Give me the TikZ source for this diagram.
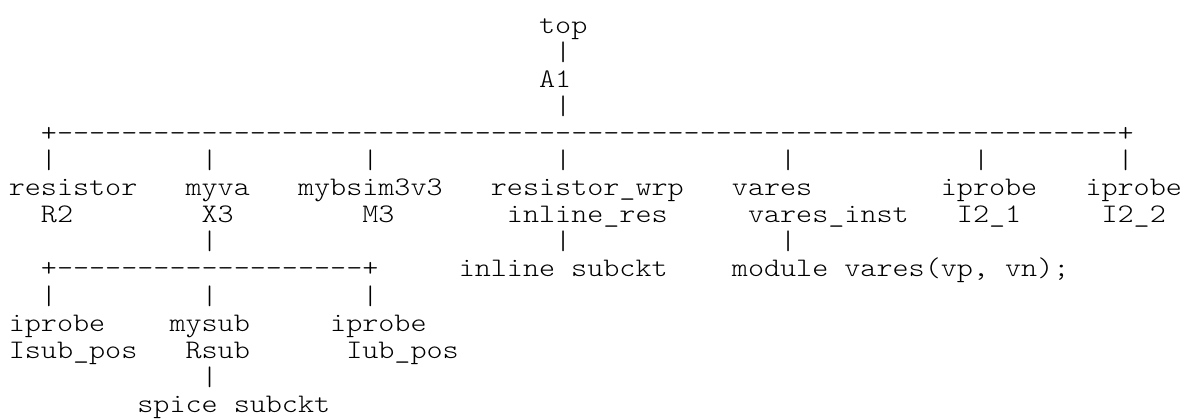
\documentclass[tikz,border=0pt]{standalone}
\usepackage{fontspec}
\setmonofont{lmmonolt10-regular.otf}[FakeStretch=1.143]
\newcommand\T[4]{\node[tok] (#1) at ({8.8pt+#2*16.07pt},{-33pt-#3*27.1pt}) {#4};}
\begin{document}
\begin{tikzpicture}[x=1pt,y=1pt,
  tok/.style={anchor=base west,inner sep=0pt,outer sep=0pt,
    font=\ttfamily\fontsize{26.78pt}{26.78pt}\selectfont,text=black}]
\useasboundingbox (0,0) rectangle (1188,-418);
% line 0-3
\T{top}{33}{0}{top}
\T{v1}{34}{1}{|}
\T{A1}{33}{2}{A1}
\T{v3}{34}{3}{|}
% line 4
\T{bus}{2}{4}{+------------------------------------------------------------------+}
% line 5
\T{v5a}{2}{5}{|}
\T{v5b}{12}{5}{|}
\T{v5c}{22}{5}{|}
\T{v5d}{34}{5}{|}
\T{v5e}{48}{5}{|}
\T{v5f}{60}{5}{|}
\T{v5g}{69}{5}{|}
% line 6
\T{resistor}{0}{6}{resistor}
\T{myva}{11}{6}{myva}
\T{mybsim}{18}{6}{mybsim3v3}
\T{reswrp}{30}{6}{resistor\_wrp}
\T{vares}{45}{6}{vares}
\T{iprobeA}{58}{6}{iprobe}
\T{iprobeB}{67}{6}{iprobe}
% line 7
\T{R2}{2}{7}{R2}
\T{X3}{12}{7}{X3}
\T{M3}{22}{7}{M3}
\T{inlineres}{31}{7}{inline\_res}
\T{varesinst}{46}{7}{vares\_inst}
\T{I21}{59}{7}{I2\_1}
\T{I22}{68}{7}{I2\_2}
% line 8
\T{v8a}{12}{8}{|}
\T{v8b}{34}{8}{|}
\T{v8c}{48}{8}{|}
% line 9
\T{subbus}{2}{9}{+-------------------+}
\T{inlinesub}{28}{9}{inline subckt}
\T{module}{45}{9}{module vares(vp, vn);}
% line 10
\T{v10a}{2}{10}{|}
\T{v10b}{12}{10}{|}
\T{v10c}{22}{10}{|}
% line 11
\T{iprobeC}{0}{11}{iprobe}
\T{mysub}{10}{11}{mysub}
\T{iprobeD}{20}{11}{iprobe}
% line 12
\T{Isubpos}{0}{12}{Isub\_pos}
\T{Rsub}{11}{12}{Rsub}
\T{Iubpos}{21}{12}{Iub\_pos}
% line 13
\T{v13}{12}{13}{|}
% line 14
\T{spice}{8}{14}{spice subckt}
\end{tikzpicture}
\end{document}
